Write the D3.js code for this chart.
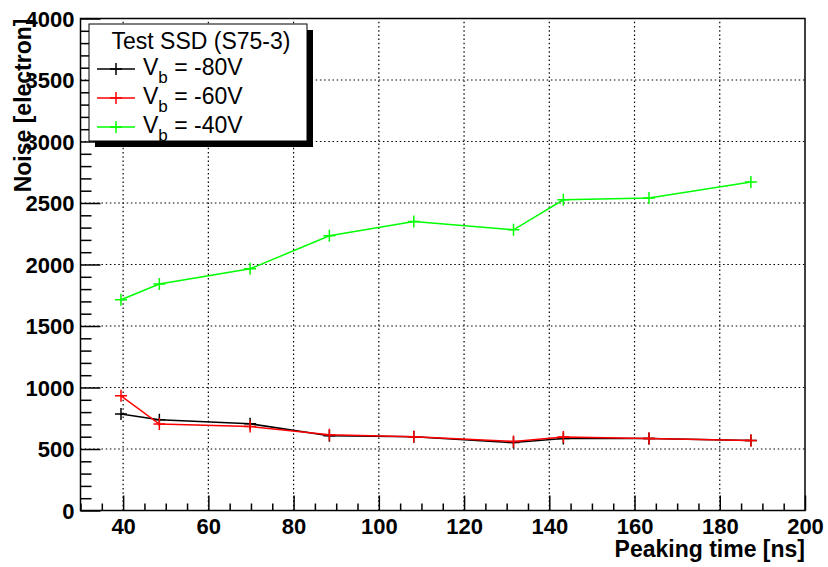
<!DOCTYPE html>
<html>
<head>
<meta charset="utf-8">
<script src="https://cdn.jsdelivr.net/npm/d3@7"></script>
<style>
  body { margin: 0; background: #fff; }
  svg text { font-family: "Liberation Sans", Arial, Helvetica, sans-serif; }
</style>
</head>
<body>
<svg id="chart" width="828" height="567"></svg>
<script>
// peaking times [ns]
var peaking = [39.5, 48.5, 69.8, 88.4, 108.2, 131.6, 143.3, 163.4, 187.3]
var noise80 = [784, 737, 705, 607, 599, 552, 585, 586, 569]
var noise60 = [932, 703, 683, 615, 600, 561, 597, 586, 569]
var noise40 = [1713, 1841, 1965, 2233, 2350, 2282, 2526, 2540, 2670]

var series = [
    {label: "-80V", color: "#000000", values: noise80},
    {label: "-60V", color: "#ff0000", values: noise60},
    {label: "-40V", color: "#00ff00", values: noise40}
]
var xTicks = [40, 60, 80, 100, 120, 140, 160, 180, 200]
var yTicks = [0, 500, 1000, 1500, 2000, 2500, 3000, 3500, 4000]

var svg = d3.select("#chart")
var padL = 80.5, padR = 805, padT = 18.5, padB = 510.5

var x = d3.scaleLinear().domain([30, 200]).range([padL, padR])
var y = d3.scaleLinear().domain([0, 4000]).range([padB, padT])

// grid
var grid = svg.append("g")
grid.selectAll("line.gx")
    .data(xTicks.filter(function(d) { return d < 200 }))
    .enter().append("line")
    .attr("x1", function(d) { return x(d) }).attr("x2", function(d) { return x(d) })
    .attr("y1", padB).attr("y2", padT)
    .attr("stroke", "#000").attr("stroke-width", 1.2).attr("stroke-dasharray", "1.5,2.7")
grid.selectAll("line.gy")
    .data(yTicks.filter(function(d) { return d > 0 && d < 4000 }))
    .enter().append("line")
    .attr("y1", function(d) { return y(d) }).attr("y2", function(d) { return y(d) })
    .attr("x1", padL).attr("x2", padR)
    .attr("stroke", "#000").attr("stroke-width", 1.2).attr("stroke-dasharray", "1.5,2.7")

// frame
svg.append("rect")
    .attr("x", padL).attr("y", padT)
    .attr("width", padR - padL).attr("height", padB - padT)
    .attr("fill", "none").attr("stroke", "#000").attr("stroke-width", 1.5)

// x axis ticks
var xAxis = svg.append("g").attr("transform", "translate(0," + padB + ")")
    .call(d3.axisBottom(x).tickValues(d3.range(30, 201, 5)).tickSizeInner(0).tickSizeOuter(0).tickFormat(""))
xAxis.select(".domain").remove()
xAxis.selectAll(".tick line")
    .attr("y2", function(d) { return d % 20 === 0 ? -15 : -7 })
    .attr("stroke-width", 1.5)
xAxis.selectAll(".tick")
    .filter(function(d) { return xTicks.indexOf(d) >= 0 })
    .append("text")
    .attr("y", 23).attr("fill", "#000")
    .attr("text-anchor", "middle")
    .style("font-size", "22px").style("font-weight", "bold")
    .text(function(d) { return d })

// y axis ticks
var yAxis = svg.append("g").attr("transform", "translate(" + padL + ",0)")
    .call(d3.axisLeft(y).tickValues(d3.range(0, 4001, 100)).tickSizeInner(0).tickSizeOuter(0).tickFormat(""))
yAxis.select(".domain").remove()
yAxis.selectAll(".tick line")
    .attr("x2", function(d) { return d % 500 === 0 ? 20 : 11 })
    .attr("stroke-width", 1.5)
yAxis.selectAll(".tick")
    .filter(function(d) { return d % 500 === 0 })
    .append("text")
    .attr("x", -6).attr("dy", "0.36em").attr("fill", "#000")
    .attr("text-anchor", "end")
    .style("font-size", "22px").style("font-weight", "bold")
    .text(function(d) { return d })

// axis titles
svg.append("text")
    .attr("x", padR).attr("y", 557)
    .attr("text-anchor", "end")
    .style("font-size", "23px").style("font-weight", "bold")
    .text("Peaking time [ns]")
svg.append("text")
    .attr("transform", "translate(31," + padT + ") rotate(-90)")
    .attr("text-anchor", "end")
    .style("font-size", "23px").style("font-weight", "bold")
    .text("Noise [electron]")

// data
var line = d3.line()
    .x(function(d, i) { return x(peaking[i]) })
    .y(function(d) { return y(d) })

function cross(g, cx, cy, color) {
    g.append("path")
        .attr("d", "M" + (cx - 6) + "," + cy + "H" + (cx + 6) + "M" + cx + "," + (cy - 6) + "V" + (cy + 6))
        .attr("stroke", color).attr("stroke-width", 1.5).attr("fill", "none")
}

series.forEach(function(s) {
    var g = svg.append("g")
    g.append("path")
        .attr("d", line(s.values))
        .attr("fill", "none").attr("stroke", s.color).attr("stroke-width", 1.5)
    s.values.forEach(function(v, i) {
        cross(g, x(peaking[i]), y(v), s.color)
    })
})

// legend
var lg = svg.append("g")
lg.append("rect")
    .attr("x", 95).attr("y", 30).attr("width", 218).attr("height", 117)
    .attr("fill", "#000")
lg.append("rect")
    .attr("x", 89).attr("y", 24).attr("width", 218).attr("height", 117)
    .attr("fill", "#fff").attr("stroke", "#000").attr("stroke-width", 1)
lg.append("text")
    .attr("x", 201).attr("y", 49)
    .attr("text-anchor", "middle")
    .style("font-size", "23px")
    .text("Test SSD (S75-3)")

series.forEach(function(s, i) {
    var yy = 69 + i * 29
    lg.append("line")
        .attr("x1", 97).attr("x2", 135).attr("y1", yy).attr("y2", yy)
        .attr("stroke", s.color).attr("stroke-width", 1.5)
    cross(lg, 116, yy, s.color)
    var t = lg.append("text")
        .attr("x", 143).attr("y", yy + 6)
        .style("font-size", "23px")
    t.append("tspan").text("V")
    t.append("tspan").attr("dy", 8).style("font-size", "17px").text("b")
    t.append("tspan").attr("dy", -8).text(" = " + s.label)
})
</script>
</body>
</html>
